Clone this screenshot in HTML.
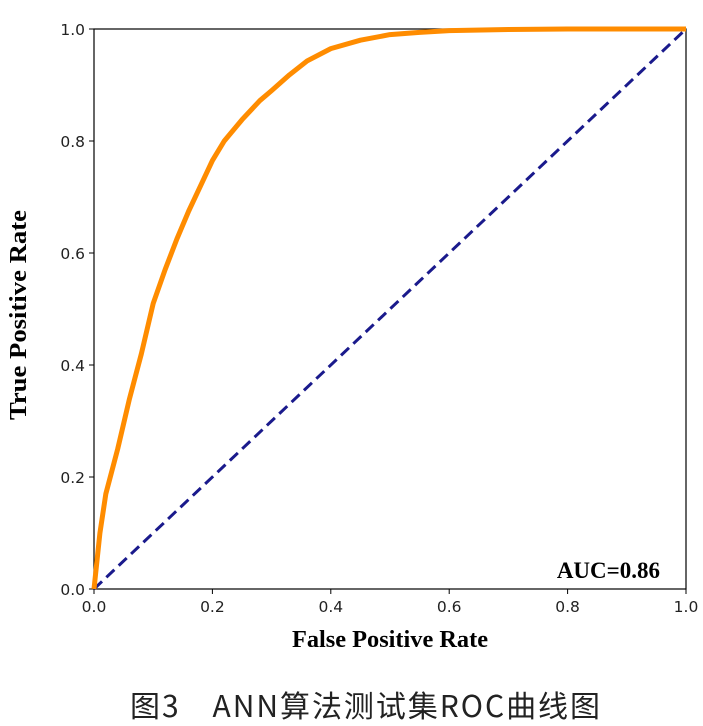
<!DOCTYPE html>
<html><head><meta charset="utf-8"><style>
body{margin:0;background:#fff;width:703px;height:726px;overflow:hidden}
svg{display:block}
</style></head><body>
<svg width="703" height="726" xmlns="http://www.w3.org/2000/svg">
<g id="ax"></g>
<text x="365" y="717" text-anchor="middle" font-family="'Noto Sans CJK SC',sans-serif" font-size="30" fill="#222" textLength="470" lengthAdjust="spacing">图3　ANN算法测试集ROC曲线图</text>
</svg>
<script>
const fprValues=[0,0.005,0.01,0.02,0.04,0.06,0.08,0.1,0.12,0.14,0.16,0.18,0.2,0.22,0.25,0.28,0.3,0.33,0.36,0.4,0.45,0.5,0.55,0.6,0.7,0.8,1];
const tprValues=[0,0.05,0.1,0.17,0.25,0.34,0.42,0.51,0.57,0.625,0.675,0.72,0.765,0.8,0.838,0.872,0.89,0.918,0.943,0.965,0.98,0.99,0.994,0.997,0.999,1,1];
const xTicks=["0.0","0.2","0.4","0.6","0.8","1.0"];
const yTicks=["0.0","0.2","0.4","0.6","0.8","1.0"];
const L=94,R=686,T=29,B=589;
const sx=v=>L+v*(R-L), sy=v=>B-v*(B-T);
const ns="http://www.w3.org/2000/svg", g=document.getElementById('ax');
function mk(t,a){const e=document.createElementNS(ns,t);for(const k in a)e.setAttribute(k,a[k]);g.appendChild(e);return e;}
const frame=mk('rect',{x:L,y:T,width:R-L,height:B-T,fill:'none',stroke:'#000','stroke-width':1.2});


xTicks.forEach(t=>{const v=parseFloat(t);
 const l=mk('line',{x1:sx(v),x2:sx(v),y1:B,y2:B+5,stroke:'#000'});
 
 
 const tx=mk('text',{x:sx(v),y:B+23,'text-anchor':'middle','font-family':'DejaVu Sans,sans-serif','font-size':15.5,fill:'#222'});tx.textContent=t;
 
 });
yTicks.forEach(t=>{const v=parseFloat(t);
 const l=mk('line',{x1:L-5,x2:L,y1:sy(v),y2:sy(v),stroke:'#000'});
 
 
 const tx=mk('text',{x:L-9,y:sy(v)+6,'text-anchor':'end','font-family':'DejaVu Sans,sans-serif','font-size':15.5,fill:'#222'});tx.textContent=t;
 
 });
const diag=mk('line',{x1:sx(0),y1:sy(0),x2:sx(1),y2:sy(1),stroke:'#1a1a8c','stroke-width':3,'stroke-dasharray':'11,6'});


const pts=fprValues.map((f,i)=>sx(f)+','+sy(tprValues[i])).join(' ');
const roc=mk('polyline',{points:pts,fill:'none',stroke:'#ff8c00','stroke-width':5,'stroke-linejoin':'round'});


const auc=mk('text',{x:660,y:578,'text-anchor':'end','font-family':'Liberation Serif,serif','font-weight':'bold','font-size':23,fill:'#000'});auc.textContent='AUC=0.86';


const xt=mk('text',{x:(L+R)/2,y:647,'text-anchor':'middle','font-family':'Liberation Serif,serif','font-weight':'bold','font-size':24,fill:'#000',textLength:196,lengthAdjust:'spacingAndGlyphs'});xt.textContent='False Positive Rate';


const yt=mk('text',{x:0,y:0,'text-anchor':'middle','font-family':'Liberation Serif,serif','font-weight':'bold','font-size':24,fill:'#000',textLength:210,lengthAdjust:'spacingAndGlyphs',transform:'translate(26,'+((T+B)/2+6)+') rotate(-90)'});yt.textContent='True Positive Rate';


</script>
</body></html>
